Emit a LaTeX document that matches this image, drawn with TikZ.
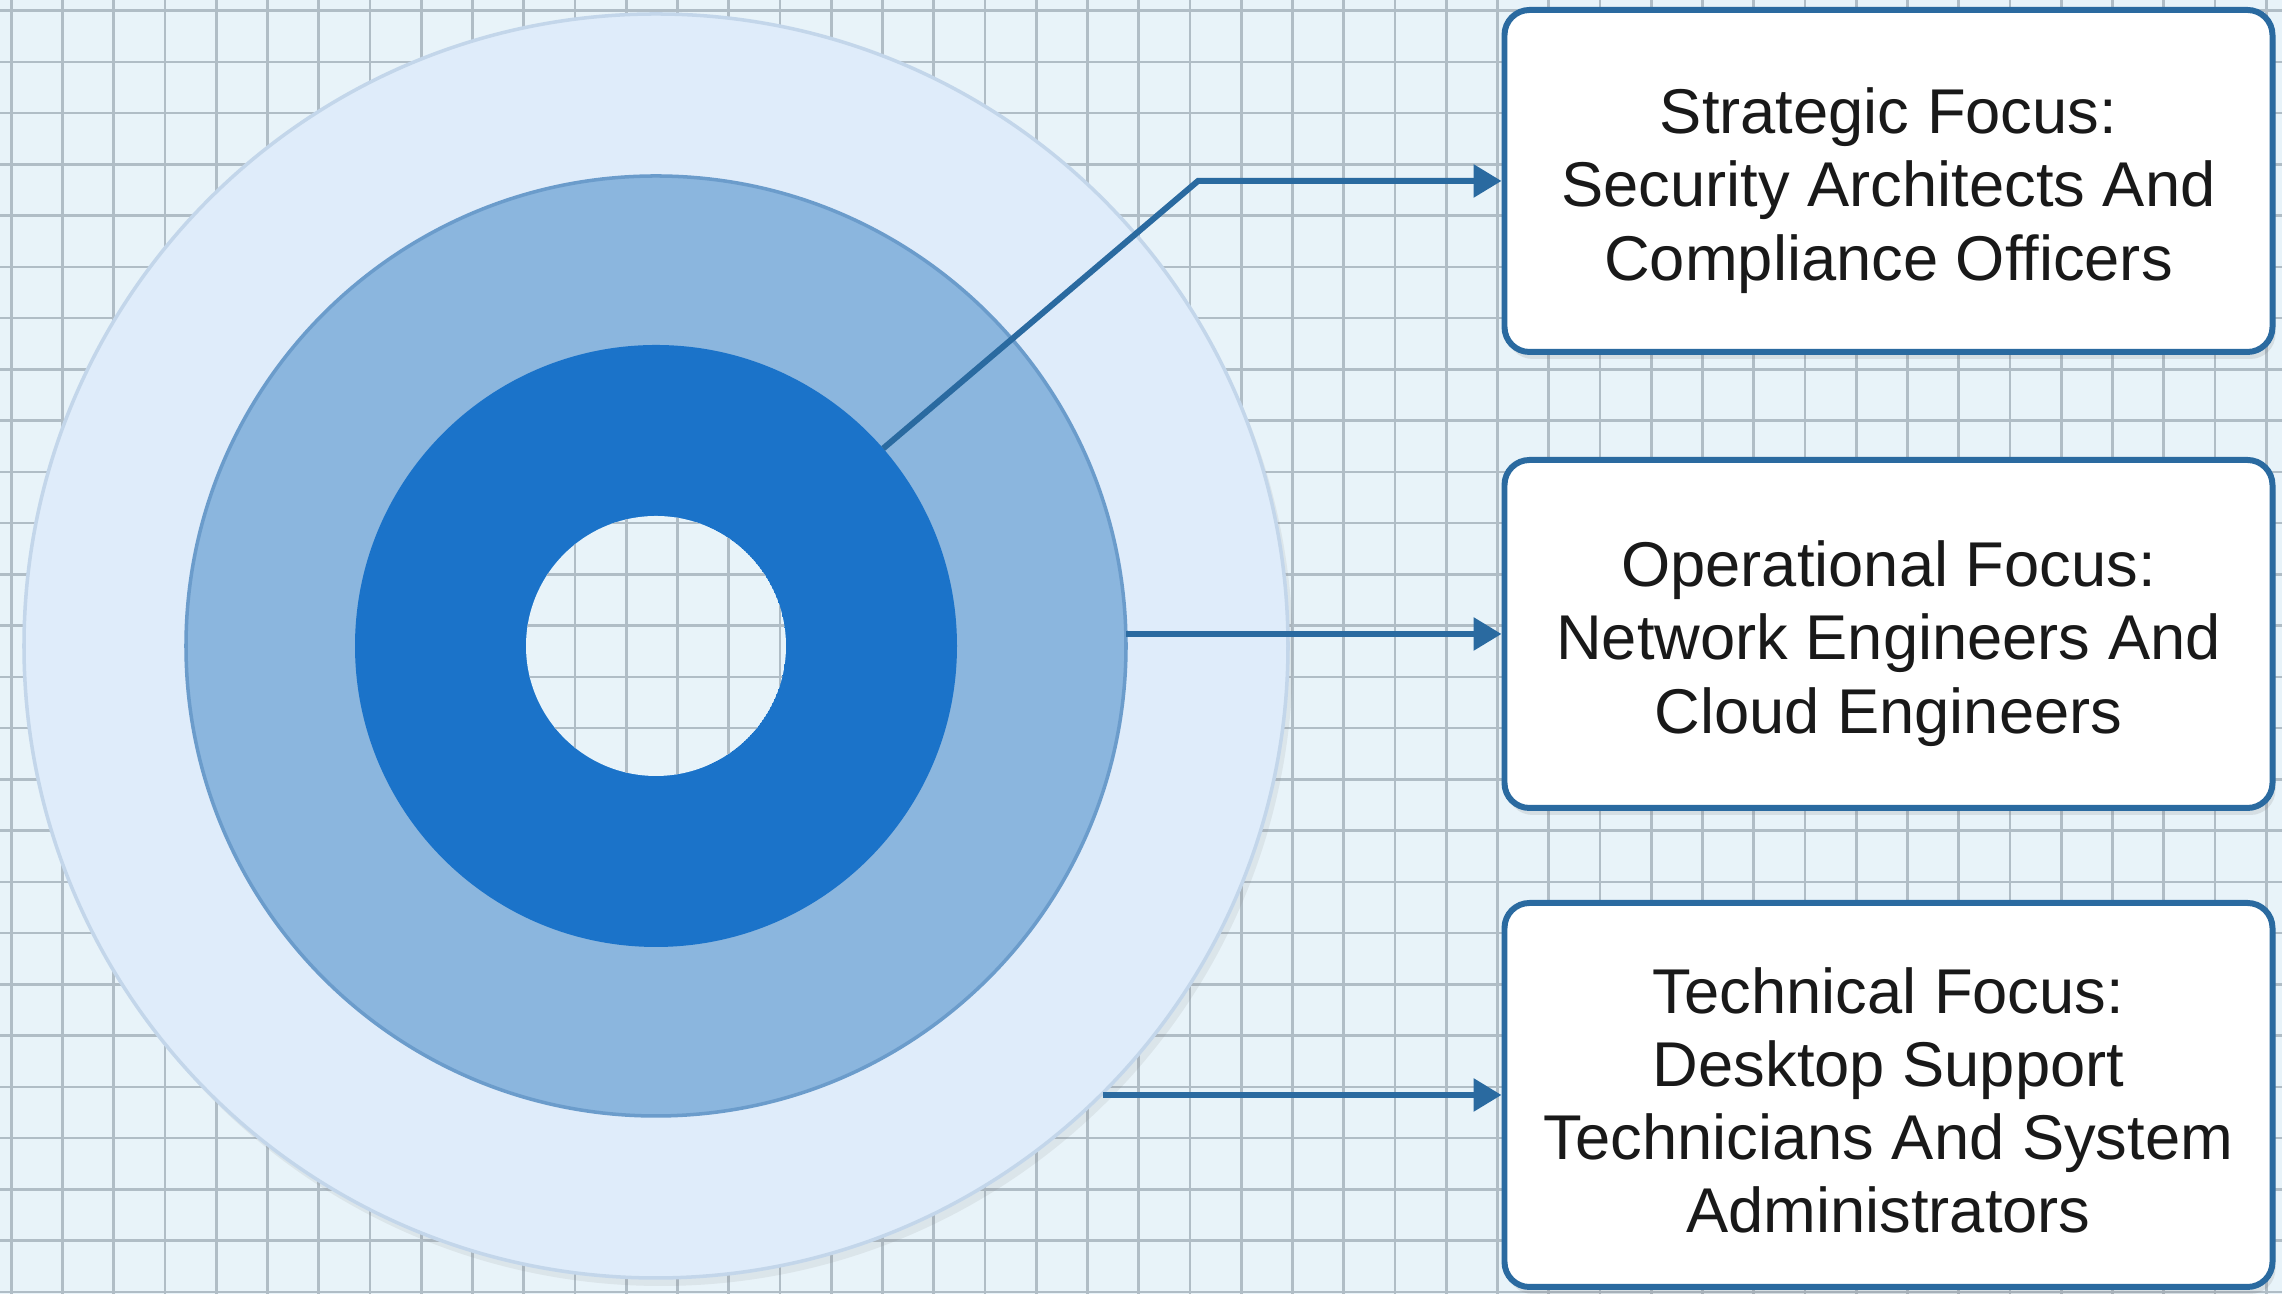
\documentclass[tikz,border=0pt]{standalone}
\usepackage{fontspec}
\setmainfont{Liberation Sans}
\usetikzlibrary{arrows.meta,shadows}

\definecolor{paper}{HTML}{E8F3F9}
\definecolor{gridgray}{HTML}{B0BDC6}
\definecolor{outerfill}{HTML}{DFECFA}
\definecolor{outerline}{HTML}{C3D6EA}
\definecolor{midfill}{HTML}{8BB6DE}
\definecolor{midline}{HTML}{6B9CCB}
\definecolor{ringblue}{HTML}{1B73C9}
\definecolor{linkblue}{HTML}{2A6AA0}

\begin{document}
\begin{tikzpicture}[
    gridline/.style={draw=gridgray, line width=0.75pt},
    disc/.style={circle, inner sep=0pt, outer sep=0pt},
    focusbox/.style={draw=linkblue, line width=1.7pt, fill=white, rounded corners=0.25cm,
      minimum width=7.68cm, align=center, text=black!90, font=\fontsize{18}{20.8}\selectfont,
      drop shadow={opacity=0.18, shadow xshift=0.03cm, shadow yshift=-0.07cm}},
    link/.style={draw=linkblue, line width=1.7pt, -{Triangle[length=0.28cm, width=0.32cm]}}
  ]

        % paper and grid
        \fill[paper] (0,0) rectangle (22.82,12.94);
        \useasboundingbox (0,0) rectangle (22.82,12.94);
        \draw[gridline, shift={(0.112,0.021)}] (-0.6,-0.6) grid[step=0.5125] (22.9,13.0);

        \begin{scope}[every node/.style={disc}]
          \node[fill=outerfill, draw=outerline, line width=1pt, minimum size=12.64cm,
                drop shadow={opacity=0.12, shadow xshift=0.05cm, shadow yshift=-0.08cm}] (outer) at (6.56,6.48) {};
          \node[fill=midfill, draw=midline, line width=1pt, minimum size=9.40cm] (middle) at (6.56,6.48) {};
          \node[fill=ringblue, minimum size=6.02cm] (inner) at (6.56,6.48) {};
        \end{scope}

        % hole in the middle shows the paper
        \begin{scope}
          \clip (inner.center) circle (1.30);
          \fill[paper] (inner.center) circle (1.30);
          \draw[gridline, shift={(0.112,0.021)}] (-0.6,-0.6) grid[step=0.5125] (22.9,13.0);
        \end{scope}

        \begin{scope}[every node/.style={focusbox}]
          \node[minimum height=3.42cm] (strategic) at (18.885,11.13)
            {\rule{0pt}{18.5pt}Strategic Focus:\\Security Architects And\\Compliance Officers};
          \node[minimum height=3.48cm] (operational) at (18.885,6.60)
            {\rule{0pt}{18.5pt}Operational Focus:\\Network Engineers And\\Cloud Engineers};
          \node[minimum height=3.84cm] (technical) at (18.885,1.99)
            {\rule{0pt}{16pt}Technical Focus:\\Desktop Support\\Technicians And System\\Administrators};
        \end{scope}

        \coordinate (bend) at (11.98,11.13);
        \draw[link] (inner.41) -- (bend) -- (strategic.west);
        \draw[link] (operational.west -| middle.east) -- (operational.west);
        \draw[link] (technical.west -| outer.-45) -- (technical.west);

      \end{tikzpicture}
\end{document}
